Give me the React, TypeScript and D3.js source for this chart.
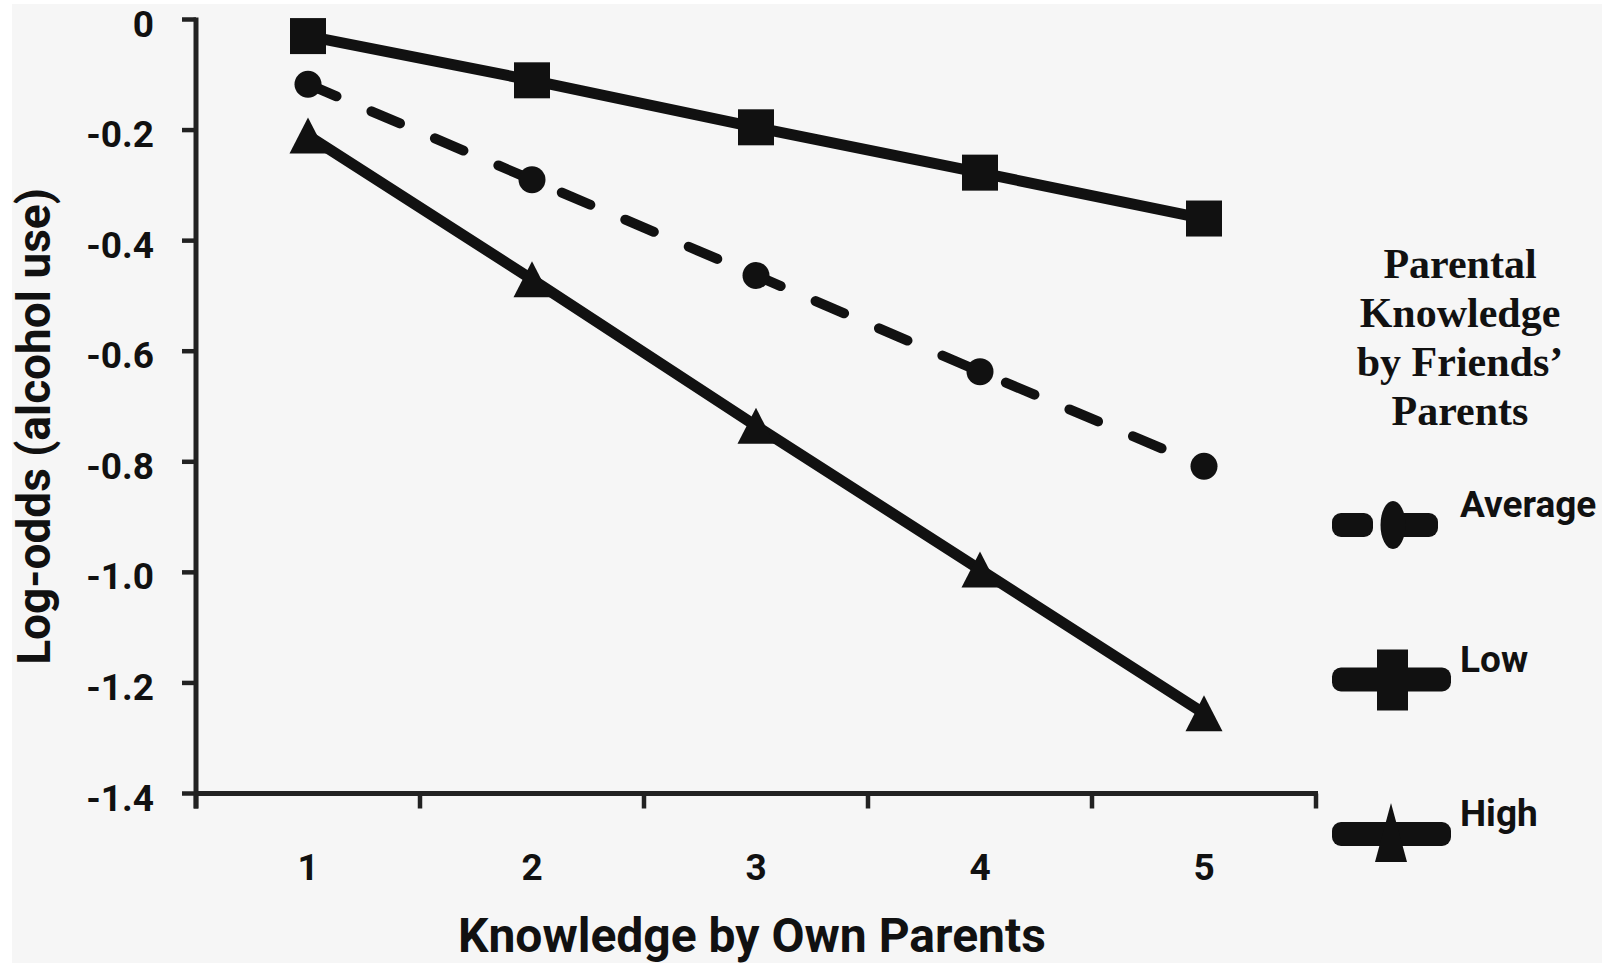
import React from 'react';
import * as d3 from 'd3';

const categories = ['1', '2', '3', '4', '5'];
const averageValues = [-0.117, -0.29, -0.463, -0.637, -0.808];
const lowValues = [-0.03, -0.11, -0.195, -0.277, -0.36];
const highValues = [-0.21, -0.47, -0.735, -0.995, -1.255];
const yTicks = [0, -0.2, -0.4, -0.6, -0.8, -1.0, -1.2, -1.4];
const yTickLabels = ['0', '-0.2', '-0.4', '-0.6', '-0.8', '-1.0', '-1.2', '-1.4'];
const seriesNames = ['Average', 'Low', 'High'];
const seriesShapes = ['circle', 'square', 'triangle'];
const legendTitleLines = ['Parental', 'Knowledge', 'by Friends\u2019', 'Parents'];
const xTitle = 'Knowledge by Own Parents';
const yTitle = 'Log-odds (alcohol use)';

const W = 1603;
const H = 963;
const INK = '#111111';
const SANS = "Roboto, 'Open Sans', sans-serif";
const SERIF = "'Liberation Serif', 'Times New Roman', serif";

export default function App() {
  const x = d3.scaleBand<string>().domain(categories).range([196, 1316]).padding(0);
  const y = d3.scaleLinear().domain([-1.4, 0]).range([793.5, 19.5]);
  const cx = (i: number) => (x(categories[i]) as number) + x.bandwidth() / 2;

  const line = d3
    .line<number>()
    .x((_, i) => cx(i))
    .y((d) => y(d));

  const series = [
    { name: seriesNames[0], values: averageValues, shape: seriesShapes[0], dashed: true },
    { name: seriesNames[1], values: lowValues, shape: seriesShapes[1], dashed: false },
    { name: seriesNames[2], values: highValues, shape: seriesShapes[2], dashed: false },
  ];

  const marker = (shape: string, px: number, py: number, key: string) => {
    if (shape === 'circle') return <circle key={key} cx={px} cy={py} r={13.5} fill={INK} />;
    if (shape === 'square')
      return <rect key={key} x={px - 18} y={py - 18} width={36} height={36} fill={INK} />;
    return (
      <path
        key={key}
        d={`M${px},${py - 18} L${px + 18.5},${py + 18} L${px - 18.5},${py + 18} Z`}
        fill={INK}
      />
    );
  };

  const yBase = y(-1.4);
  const xTickPositions = [...categories.map((c) => x(c) as number), 1316];

  const legendX0 = 1332;
  const legendRowY = (i: number) => 525 + i * 154.5;

  return (
    <svg
      width={W}
      height={H}
      style={{ position: 'absolute', left: 0, top: 0, display: 'block' }}
    >
      <rect x={0} y={0} width={W} height={H} fill="#ffffff" />
      <rect x={12} y={4} width={W - 13} height={H - 4} fill="#f6f6f6" />

      {/* y axis */}
      <line x1={196} x2={196} y1={y(0) - 2} y2={yBase + 15} stroke="#222" strokeWidth={5} />
      {yTicks.map((t, i) => (
        <g key={'yt' + i}>
          <line x1={182} x2={196} y1={y(t)} y2={y(t)} stroke="#222" strokeWidth={4.5} />
          <text
            x={154}
            y={y(t) + 17}
            textAnchor="end"
            fontFamily={SANS}
            fontWeight={700}
            fontSize={37}
            fill={INK}
          >
            {yTickLabels[i]}
          </text>
        </g>
      ))}

      {/* x axis */}
      <line x1={194} x2={1318} y1={yBase} y2={yBase} stroke="#222" strokeWidth={5} />
      {xTickPositions.map((p, i) => (
        <line key={'xt' + i} x1={p} x2={p} y1={yBase} y2={yBase + 15} stroke="#222" strokeWidth={4.5} />
      ))}
      {categories.map((c, i) => (
        <text
          key={'xl' + i}
          x={cx(i)}
          y={880}
          textAnchor="middle"
          fontFamily={SANS}
          fontWeight={700}
          fontSize={37}
          fill={INK}
        >
          {c}
        </text>
      ))}

      {/* titles */}
      <text
        x={752}
        y={952}
        textAnchor="middle"
        fontFamily={SANS}
        fontWeight={700}
        fontSize={48}
        fill={INK}
      >
        {xTitle}
      </text>
      <text
        transform={`translate(50,426.5) rotate(-90)`}
        textAnchor="middle"
        fontFamily={SANS}
        fontWeight={700}
        fontSize={46}
        fill={INK}
      >
        {yTitle}
      </text>

      {/* series lines */}
      {series.map((s) => (
        <path
          key={'l' + s.name}
          d={line(s.values) || ''}
          fill="none"
          stroke={INK}
          strokeWidth={s.dashed ? 10 : 11}
          strokeDasharray={s.dashed ? '31 38' : undefined}
          strokeLinecap={s.dashed ? 'round' : 'butt'}
          strokeLinejoin="round"
        />
      ))}
      {series.map((s) => s.values.map((v, i) => marker(s.shape, cx(i), y(v), s.name + i)))}

      {/* legend */}
      {legendTitleLines.map((t, i) => (
        <text
          key={'lt' + i}
          x={1460}
          y={278 + i * 49}
          textAnchor="middle"
          fontFamily={SERIF}
          fontWeight={700}
          fontSize={42}
          fill={INK}
        >
          {t}
        </text>
      ))}
      {series.map((s, i) => {
        const ly = legendRowY(i);
        return (
          <g key={'lg' + s.name}>
            {s.dashed ? (
              <>
                <rect x={legendX0} y={ly - 12} width={41} height={24} rx={9} fill={INK} />
                <rect x={1392} y={ly - 12} width={46} height={24} rx={9} fill={INK} />
                <ellipse cx={1393} cy={ly} rx={12.5} ry={24} fill={INK} />
              </>
            ) : (
              <rect x={legendX0} y={ly - 12} width={119} height={24} rx={9} fill={INK} />
            )}
            {s.shape === 'square' && (
              <rect x={1377} y={ly - 30} width={31} height={61} fill={INK} />
            )}
            {s.shape === 'triangle' && (
              <path d={`M1391,${ly - 31} L1407,${ly + 28} L1375,${ly + 28} Z`} fill={INK} />
            )}
            <text
              x={1460}
              y={ly - 8}
              fontFamily={SANS}
              fontWeight={700}
              fontSize={37}
              fill={INK}
            >
              {s.name}
            </text>
          </g>
        );
      })}
    </svg>
  );
}
